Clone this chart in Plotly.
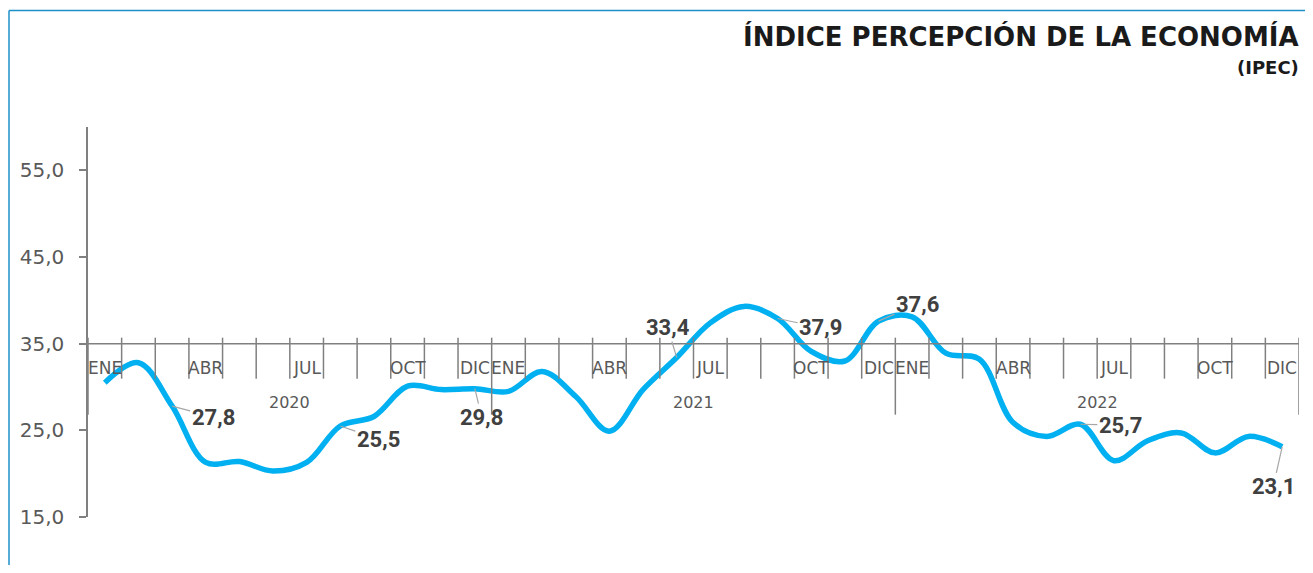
import plotly.graph_objects as go

# ---------------- data ----------------
years = ["2020", "2021", "2022"]
months = ["ENE", "FEB", "MAR", "ABR", "MAY", "JUN", "JUL", "AGO", "SEP", "OCT", "NOV", "DIC"]
shown_months = ["ENE", "ABR", "JUL", "OCT", "DIC"]
values_2020 = [30.5, 32.8, 27.8, 21.3, 21.4, 20.3, 21.3, 25.5, 26.6, 30.1, 29.7, 29.8]
values_2021 = [29.5, 31.8, 28.9, 24.9, 29.7, 33.4, 37.4, 39.3, 37.9, 34.1, 33.0, 37.6]
values_2022 = [38.1, 33.9, 33.2, 25.9, 24.3, 25.7, 21.5, 23.8, 24.7, 22.4, 24.3, 23.1]
y_ticks = [15, 25, 35, 45, 55]
y_tick_text = ["15,0", "25,0", "35,0", "45,0", "55,0"]
# labelled points: (year, month, label offset x px, label offset y px)
labelled = [
    ("2020", "MAR", 41, 11),
    ("2020", "AGO", 38, 13),
    ("2020", "DIC", 7, 29),
    ("2021", "JUN", -9, -30),
    ("2021", "SEP", 43, 9),
    ("2021", "DIC", 39, -17),
    ("2022", "JUN", 40, 1),
    ("2022", "DIC", -9, 40),
]

values = values_2020 + values_2021 + values_2022
n = len(values)
xs = list(range(n))
cat_month = [m for _ in years for m in months]

# page body has an 8px margin: work in page pixels, convert to figure pixels
OFF = 8
PAGE_W, PAGE_H = 1313, 573
W, H = PAGE_W - 2 * OFF, PAGE_H - 2 * OFF
plot_l, plot_r, plot_t, plot_b = 88, 1299, 127, 517  # page pixels
L, R, T, B = plot_l - OFF, W - (plot_r - OFF), plot_t - OFF, H - (plot_b - OFF)


def px_x(px):
    return (px - plot_l) / (plot_r - plot_l)


def px_y(py):
    return (plot_b - py) / (plot_b - plot_t)


AXIS_Y = 35
GREY = "#808080"
TXT = "#595959"

fig = go.Figure()
fig.add_trace(go.Scatter(
    x=xs, y=values, mode="lines",
    line=dict(color="#00B0F0", width=5.5, shape="spline", smoothing=1),
    hoverinfo="skip", showlegend=False,
))

shapes = []
# horizontal category axis crossing at 35
shapes.append(dict(type="line", xref="x", yref="y", x0=-0.5, x1=n - 0.5,
                   y0=AXIS_Y, y1=AXIS_Y, line=dict(color=GREY, width=1.5)))
# boundary ticks
for b in range(n + 1):
    long_tick = (b % len(months) == 0)
    shapes.append(dict(type="line", xref="x", yref="y", ysizemode="pixel",
                       yanchor=AXIS_Y, x0=b - 0.5, x1=b - 0.5,
                       y0=6, y1=-71 if long_tick else -35,
                       line=dict(color=GREY, width=1.5)))
# outer frame lines (blue)
frame_col = "#1E90C8"
shapes.append(dict(type="line", xref="paper", yref="paper",
                   x0=px_x(9), x1=px_x(9), y0=px_y(10.5), y1=px_y(PAGE_H),
                   line=dict(color=frame_col, width=1.5)))
shapes.append(dict(type="line", xref="paper", yref="paper",
                   x0=px_x(9), x1=px_x(PAGE_W), y0=px_y(10.5), y1=px_y(10.5),
                   line=dict(color=frame_col, width=1.5)))

annotations = []
# month labels
for i in xs:
    m = cat_month[i]
    if m in shown_months:
        annotations.append(dict(x=i, y=AXIS_Y, xref="x", yref="y", text=m,
                                showarrow=False, yanchor="middle", yshift=-24,
                                font=dict(family="DejaVu Sans", size=17, color=TXT)))
# year labels
for k, yr in enumerate(years):
    cx = k * len(months) + (len(months) - 1) / 2
    annotations.append(dict(x=cx, y=AXIS_Y, xref="x", yref="y", text=yr,
                            showarrow=False, yanchor="middle", yshift=-59,
                            font=dict(family="DejaVu Sans", size=16, color=TXT)))
# data labels
for yr, mo, ax, ay in labelled:
    i = years.index(yr) * len(months) + months.index(mo)
    v = values[i]
    txt = f"{v:.1f}".replace(".", ",")
    annotations.append(dict(x=i, y=v, xref="x", yref="y", text=f"<b>{txt}</b>",
                            showarrow=True, arrowhead=0, arrowwidth=1.2,
                            arrowcolor="#A6A6A6", standoff=0, startstandoff=0,
                            ax=ax, ay=ay, axref="pixel", ayref="pixel",
                            font=dict(family="Roboto", size=22, color="#404040")))
# titles
annotations.append(dict(xref="paper", yref="paper", x=px_x(1301), y=px_y(37),
                        xanchor="right", yanchor="middle", showarrow=False,
                        text="<b>ÍNDICE PERCEPCIÓN DE LA ECONOMÍA</b>",
                        font=dict(family="DejaVu Sans", size=26, color="#1A1A1A")))
annotations.append(dict(xref="paper", yref="paper", x=px_x(1301), y=px_y(67),
                        xanchor="right", yanchor="middle", showarrow=False,
                        text="<b>(IPEC)</b>",
                        font=dict(family="DejaVu Sans", size=18, color="#1A1A1A")))

fig.update_layout(
    width=W, height=H,
    margin=dict(l=L, r=R, t=T, b=B, pad=0),
    paper_bgcolor="white", plot_bgcolor="white",
    xaxis=dict(range=[-0.5, n - 0.5], showgrid=False, zeroline=False,
               showline=False, showticklabels=False, ticks=""),
    yaxis=dict(range=[15, 60], tickvals=y_ticks, ticktext=y_tick_text,
               showgrid=False, zeroline=False, showline=True, linecolor=GREY,
               linewidth=1.5, ticks="outside", ticklen=7, tickcolor=GREY,
               tickwidth=1.5, ticklabelstandoff=11,
               tickfont=dict(family="DejaVu Sans", size=20, color=TXT)),
    shapes=shapes, annotations=annotations,
    showlegend=False,
)

fig.write_html("out.html")
